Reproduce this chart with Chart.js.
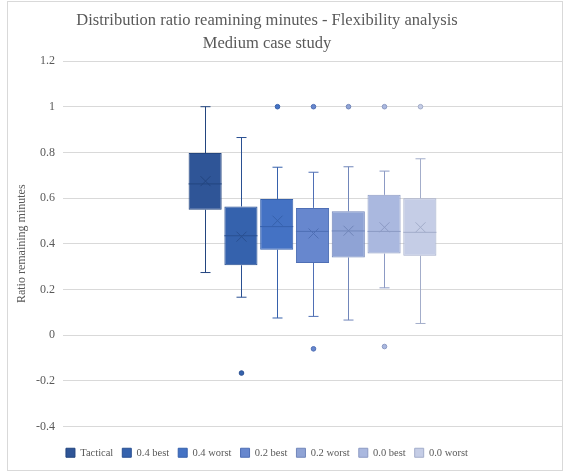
<!DOCTYPE html>
<html>
<head>
<meta charset="utf-8">
<script src="https://cdn.jsdelivr.net/npm/chart.js@4/dist/chart.umd.min.js"></script>
<style>
  html, body { margin: 0; padding: 0; background: #ffffff; }
  #wrap { width: 565px; height: 476px; position: relative; }
</style>
</head>
<body>
<div id="wrap"><canvas id="chart"></canvas></div>
<script>
// Box-and-whisker summary per scenario
const seriesNames = ['Tactical', '0.4 best', '0.4 worst', '0.2 best', '0.2 worst', '0.0 best', '0.0 worst'];
const whiskerMin = [0.274, 0.166, 0.075, 0.082, 0.066, 0.207, 0.051];
const quartile1  = [0.549, 0.306, 0.374, 0.316, 0.340, 0.357, 0.347];
const median     = [0.662, 0.435, 0.475, 0.454, 0.456, 0.454, 0.450];
const quartile3  = [0.797, 0.563, 0.596, 0.557, 0.542, 0.614, 0.599];
const whiskerMax = [1.000, 0.865, 0.735, 0.713, 0.737, 0.718, 0.772];
const mean       = [0.674, 0.431, 0.501, 0.445, 0.457, 0.472, 0.472];
const outliers   = [[], [-0.166], [1.0], [1.0, -0.060], [1.0], [1.0, -0.050], [1.0]];

const yTickValues = [-0.4, -0.2, 0, 0.2, 0.4, 0.6, 0.8, 1, 1.2];
const yTickLabels = ['-0.4', '-0.2', '0', '0.2', '0.4', '0.6', '0.8', '1', '1.2'];

const fillColors   = ['#2F5597', '#3562AD', '#4472C4', '#6787CE', '#8FA3D5', '#AAB8DF', '#C5CDE6'];
const strokeColors = ['#23457F', '#2A5092', '#3661AC', '#4F6FB5', '#7186BA', '#8C9AC4', '#A3ADCA'];

const serif = "'Liberation Serif', 'Times New Roman', serif";
const textGrey = '#595959';

// Whiskers, medians, means and outliers on top of the floating-bar boxes
const boxPlotParts = {
  id: 'boxPlotParts',
  afterDatasetsDraw(chart) {
    const ctx = chart.ctx;
    const y = chart.scales.y;
    chart.data.datasets.forEach((ds, i) => {
      const meta = chart.getDatasetMeta(i);
      if (meta.hidden) return;
      const bar = meta.data[0];
      const cx = Math.round(bar.x) + 0.5;
      const half = bar.width / 2;
      const col = strokeColors[i];
      const yQ1 = y.getPixelForValue(quartile1[i]);
      const yQ3 = y.getPixelForValue(quartile3[i]);
      const yMin = y.getPixelForValue(whiskerMin[i]);
      const yMax = y.getPixelForValue(whiskerMax[i]);
      const yMed = y.getPixelForValue(median[i]);
      const yMean = y.getPixelForValue(mean[i]);
      ctx.save();
      ctx.strokeStyle = col;
      ctx.lineWidth = 1;
      ctx.beginPath();
      // whiskers
      ctx.moveTo(cx, yQ3); ctx.lineTo(cx, yMax);
      ctx.moveTo(cx, yQ1); ctx.lineTo(cx, yMin);
      // caps
      ctx.moveTo(cx - 5, yMax); ctx.lineTo(cx + 5, yMax);
      ctx.moveTo(cx - 5, yMin); ctx.lineTo(cx + 5, yMin);
      // median
      ctx.moveTo(bar.x - half, yMed); ctx.lineTo(bar.x + half, yMed);
      ctx.stroke();
      // mean marker
      ctx.beginPath();
      ctx.moveTo(cx - 5, yMean - 5); ctx.lineTo(cx + 5, yMean + 5);
      ctx.moveTo(cx + 5, yMean - 5); ctx.lineTo(cx - 5, yMean + 5);
      ctx.stroke();
      // outliers
      outliers[i].forEach(v => {
        ctx.beginPath();
        ctx.arc(cx, y.getPixelForValue(v), 2.3, 0, Math.PI * 2);
        ctx.fillStyle = fillColors[i];
        ctx.fill();
        ctx.stroke();
      });
      ctx.restore();
    });
  }
};

// White page with a thin frame, title and legend centred on the frame
const frame = {
  id: 'frame',
  beforeDraw(chart) {
    const ctx = chart.ctx;
    ctx.save();
    ctx.fillStyle = '#ffffff';
    ctx.fillRect(0, 0, chart.width, chart.height);
    ctx.strokeStyle = '#D9D9D9';
    ctx.lineWidth = 1;
    ctx.strokeRect(7.5, 1.5, 555, 469);
    ctx.restore();
  },
  afterLayout(chart) {
    const centre = 267;
    [chart.titleBlock, chart.legend].forEach(b => {
      if (!b) return;
      const d = centre - (b.left + b.right) / 2;
      b.left += d;
      b.right += d;
    });
  }
};

const datasets = seriesNames.map((name, i) => ({
  label: name,
  data: [[quartile1[i], quartile3[i]]],
  backgroundColor: fillColors[i],
  borderColor: strokeColors[i],
  borderWidth: 1,
  borderSkipped: false,
  categoryPercentage: 0.502,
  barPercentage: 0.925
}));

new Chart(document.getElementById('chart'), {
  type: 'bar',
  data: { labels: [''], datasets },
  plugins: [frame, boxPlotParts],
  options: {
    responsive: true,
    maintainAspectRatio: false,
    animation: false,
    devicePixelRatio: 1,
    layout: { padding: { left: 7, right: 3, top: 0, bottom: 8 } },
    plugins: {
      tooltip: { enabled: false },
      title: {
        display: true,
        text: ['Distribution ratio reamining minutes - Flexibility analysis', 'Medium case study'],
        color: textGrey,
        font: { family: serif, size: 16.5, weight: 'normal', lineHeight: 1.4 },
        padding: { top: 9.5, bottom: 5.3 }
      },
      legend: {
        position: 'bottom',
        maxHeight: 32,
        labels: {
          color: textGrey,
          font: { family: serif, size: 10.5 },
          boxWidth: 9,
          boxHeight: 9,
          padding: 9
        }
      }
    },
    scales: {
      x: {
        display: true,
        grid: { display: false },
        border: { display: false },
        ticks: { display: false },
        afterFit(scale) { scale.height = 12; }
      },
      y: {
        min: -0.4,
        max: 1.2,
        afterBuildTicks(scale) { scale.ticks = yTickValues.map(v => ({ value: v })); },
        afterFit(scale) { scale.width = 56; },
        grid: { color: '#D9D9D9', drawTicks: false },
        border: { display: false },
        ticks: {
          color: textGrey,
          font: { family: serif, size: 12 },
          padding: 8,
          callback: (v, i) => yTickLabels[i]
        },
        title: {
          display: true,
          text: 'Ratio remaining minutes',
          color: textGrey,
          font: { family: serif, size: 12 },
          padding: { top: 8, bottom: 0 }
        }
      }
    }
  }
});
</script>
</body>
</html>
